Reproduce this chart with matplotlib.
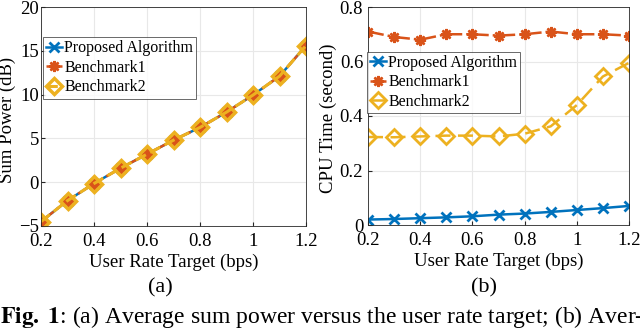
import matplotlib
matplotlib.use("Agg")
import matplotlib.pyplot as plt
import numpy as np

plt.rcParams['font.family'] = ['Liberation Serif', 'DejaVu Serif']
plt.rcParams['mathtext.fontset'] = 'stix'

rate = [0.2, 0.3, 0.4, 0.5, 0.6, 0.7, 0.8, 0.9, 1.0, 1.1, 1.2]
power_prop = [-4.5, -2.1, -0.15, 1.6, 3.2, 4.8, 6.25, 8.0, 9.95, 12.1, 15.6]
power_b1 = [-4.5, -2.1, -0.15, 1.6, 3.2, 4.8, 6.25, 8.0, 9.95, 12.1, 15.6]
power_b2 = [-4.5, -2.1, -0.15, 1.6, 3.2, 4.8, 6.25, 8.0, 9.95, 12.1, 15.6]

cpu_prop = [0.020, 0.022, 0.025, 0.028, 0.032, 0.038, 0.042, 0.048, 0.055, 0.062, 0.070]
cpu_b1 = [0.71, 0.69, 0.68, 0.70, 0.70, 0.695, 0.70, 0.71, 0.70, 0.70, 0.695]
cpu_b2 = [0.323, 0.322, 0.325, 0.328, 0.328, 0.325, 0.335, 0.362, 0.44, 0.545, 0.595]

labels = ['Proposed Algorithm', 'Benchmark1', 'Benchmark2']
xticks = [0.2, 0.4, 0.6, 0.8, 1.0, 1.2]
xticklabels = ['0.2', '0.4', '0.6', '0.8', '1', '1.2']

c1, c2, c3 = '#0072BD', '#D95319', '#EDB120'
ast = (8, 2, 0)

fig = plt.figure(figsize=(6.4, 3.29), dpi=100)
W, H = 640, 329
axL = fig.add_axes([41 / W, 1 - 226 / H, 265 / W, 219 / H])
axR = fig.add_axes([368 / W, 1 - 225 / H, 261 / W, 218 / H])

def style(ax, ypad):
    ax.grid(True, color='#e8e8e8', linewidth=0.8)
    ax.set_axisbelow(True)
    ax.tick_params(direction='in', labelsize=13.5, length=3, color='#262626', top=False, right=False)
    ax.tick_params(axis='x', pad=5)
    ax.tick_params(axis='y', pad=ypad)
    for s in ax.spines.values():
        s.set_color('#262626')
        s.set_linewidth(0.6)
    ax.set_xlim(0.2, 1.2)
    ax.set_xticks(xticks)
    ax.set_xticklabels(xticklabels)
    ax.set_xlabel('User Rate Target (bps)', fontsize=13.5, labelpad=3)

legkw = dict(loc='upper left', fontsize=11.5, frameon=True, fancybox=False,
             edgecolor='#262626', borderpad=0.2, labelspacing=0.22, handlelength=1.0,
             handletextpad=0.15, borderaxespad=0)

# Left plot
axL.plot(rate, power_prop, color=c1, linestyle='-', marker='x', markersize=7, markeredgewidth=2, linewidth=1.8, label=labels[0])
axL.plot(rate, power_b1, color=c2, linestyle='-.', marker=ast, markersize=8, markeredgewidth=1.8, linewidth=1.8, label=labels[1])
axL.plot(rate, power_b2, color=c3, linestyle='--', marker='D', markersize=8, markerfacecolor='none', markeredgewidth=2.5, linewidth=2.2, label=labels[2])
axL.set_ylim(-5, 20)
axL.set_yticks([-5, 0, 5, 10, 15, 20])
style(axL, 1.5)
axL.set_ylabel('Sum Power (dB)', fontsize=13.5)
axL.yaxis.set_label_coords(-0.093, 0.484)
legL = axL.legend(bbox_to_anchor=(0.006, 0.862), **legkw)
legL.get_frame().set_linewidth(0.6)

# Right plot
axR.plot(rate, cpu_prop, color=c1, linestyle='-', marker='x', markersize=7, markeredgewidth=2, linewidth=1.8, label=labels[0])
axR.plot(rate, cpu_b1, color=c2, linestyle='-.', marker=ast, markersize=8, markeredgewidth=1.8, linewidth=1.8, label=labels[1])
axR.plot(rate, cpu_b2, color=c3, linestyle=(0, (6, 3)), marker='D', markersize=8, markerfacecolor='none', markeredgewidth=2, linewidth=1.8, label=labels[2])
axR.set_ylim(0, 0.8)
axR.set_yticks([0, 0.2, 0.4, 0.6, 0.8])
axR.set_yticklabels(['0', '0.2', '0.4', '0.6', '0.8'])
style(axR, 3.5)
axR.set_ylabel('CPU Time (second)', fontsize=13.5)
axR.yaxis.set_label_coords(-0.119, 0.49)
legR = axR.legend(bbox_to_anchor=(-0.005, 0.795), **legkw)
legR.get_frame().set_linewidth(0.6)

fig.text(160 / W, 1 - 288 / H, '(a)', ha='center', va='center', fontsize=16)
fig.text(484 / W, 1 - 288 / H, '(b)', ha='center', va='center', fontsize=16)
fig.text(0.0, 1 - 323 / H, r'$\mathbf{Fig.\ 1}$: (a) Average sum power versus the user rate target; (b) Aver-',
         ha='left', va='baseline', fontsize=17)

fig.savefig('out.png', dpi=100)
